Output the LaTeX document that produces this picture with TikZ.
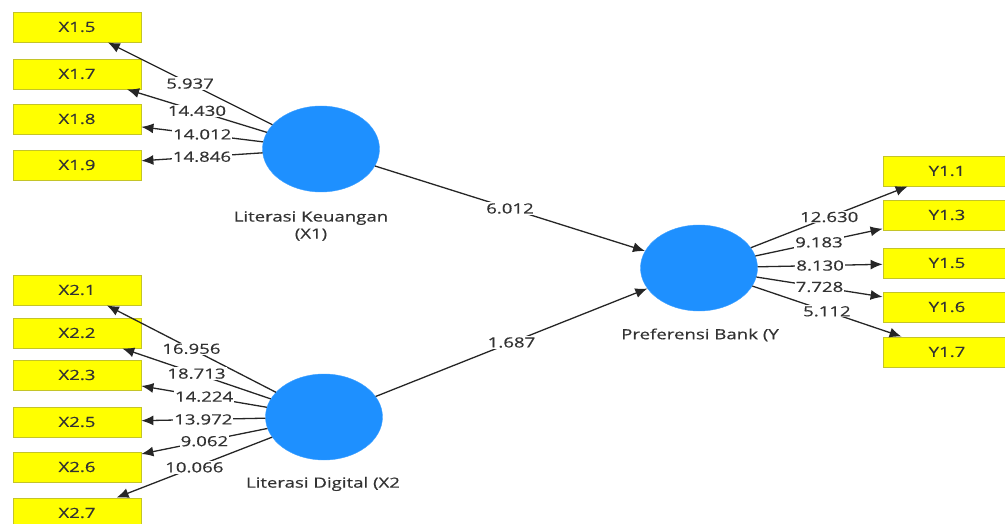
\documentclass[tikz,border=0pt]{standalone}
\usepackage{fontspec}
\setmainfont{Open Sans}[FakeStretch=1.33,FakeBold=0.4]
\usetikzlibrary{arrows.meta}
\usetikzlibrary{shapes.geometric}

\definecolor{lvblue}{RGB}{30,144,255}
\definecolor{mvyellow}{RGB}{255,255,0}
\definecolor{mvborder}{RGB}{196,196,40}
\definecolor{txtgray}{RGB}{50,50,50}

\begin{document}
\begin{tikzpicture}[x=1pt,y=-1pt,
            latent node/.style={ellipse,fill=lvblue,draw=lvblue!85,minimum width=117pt,minimum height=86pt,inner sep=0pt},
            item node/.style={rectangle,fill=mvyellow,draw=mvborder,line width=0.8pt,minimum width=128pt,minimum height=30pt,inner sep=0pt,text=txtgray,font=\fontsize{14}{14}\selectfont},
            name label/.style={text=txtgray,align=center,font=\fontsize{14}{17}\selectfont},
            load/.style={draw=black!85,line width=1.3pt,-{Latex[length=12pt,width=10pt]}},
            weight/.style={fill=white,inner sep=1pt,text=txtgray,font=\fontsize{14}{14}\selectfont},
            ]

            \useasboundingbox (0,0) rectangle (1005,524);
            \clip (0,0) rectangle (1005,524);

            % latent variables
            \node[latent node] (x1) at (321,149) {};
            \node[latent node] (x2) at (324,417) {};
            \node[latent node] (y) at (699,268) {};

            \node[name label] at (311,226) {Literasi Keuangan\\(X1)};
            \node[name label] at (323,484) {Literasi Digital (X2};
            \node[name label] at (700,335) {Preferensi Bank (Y};

            % indicators X1
            \node[item node] (x15) at (77,27) {X1.5};
            \node[item node] (x17) at (77,74) {X1.7};
            \node[item node] (x18) at (77,119) {X1.8};
            \node[item node] (x19) at (77,165) {X1.9};

            % indicators X2
            \node[item node] (x21) at (77,290) {X2.1};
            \node[item node] (x22) at (77,333) {X2.2};
            \node[item node] (x23) at (77,375) {X2.3};
            \node[item node] (x25) at (77,422) {X2.5};
            \node[item node] (x26) at (77,467) {X2.6};
            \node[item node] (x27) at (77,513) {X2.7};

            % indicators Y
            \node[item node] (y11) at (947,171) {Y1.1};
            \node[item node] (y13) at (947,215) {Y1.3};
            \node[item node] (y15) at (947,263) {Y1.5};
            \node[item node] (y16) at (947,307) {Y1.6};
            \node[item node] (y17) at (947,352) {Y1.7};

            % outer loadings
            \draw[load] (x1) -- node[weight] {5.937} (x15);
            \draw[load] (x1) -- node[weight] {14.430} (x17);
            \draw[load] (x1) -- node[weight] {14.012} (x18);
            \draw[load] (x1) -- node[weight] {14.846} (x19);

            \draw[load] (x2) -- node[weight] {16.956} (x21);
            \draw[load] (x2) -- node[weight] {18.713} (x22);
            \draw[load] (x2) -- node[weight] {14.224} (x23);
            \draw[load] (x2) -- node[weight] {13.972} (x25);
            \draw[load] (x2) -- node[weight] {9.062} (x26);
            \draw[load] (x2) -- node[weight] {10.066} (x27);

            \draw[load] (y) -- node[weight] {12.630} (y11);
            \draw[load] (y) -- node[weight] {9.183} (y13);
            \draw[load] (y) -- node[weight] {8.130} (y15);
            \draw[load] (y) -- node[weight] {7.728} (y16);
            \draw[load] (y) -- node[weight] {5.112} (y17);

            % path coefficients
            \draw[load] (x1) -- node[weight] {6.012} (y);
            \draw[load] (x2) -- node[weight] {1.687} (y);
        \end{tikzpicture}
\end{document}
